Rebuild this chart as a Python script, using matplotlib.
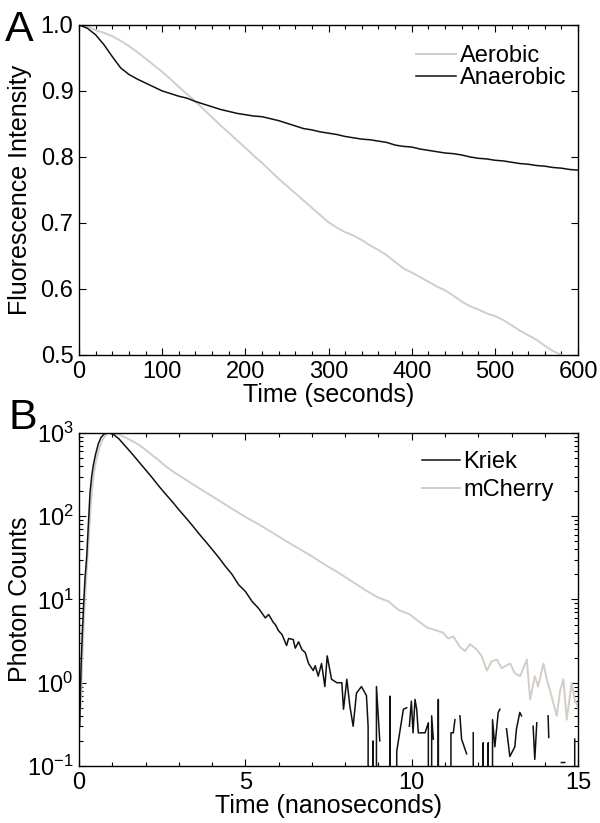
import numpy as np
import matplotlib
matplotlib.use("Agg")
import matplotlib.pyplot as plt
from matplotlib.ticker import MultipleLocator, LogLocator, NullFormatter

plt.rcParams['font.family'] = ['Liberation Sans', 'DejaVu Sans']

# panel A: fluorescence vs time (s)
time_a = list(range(0, 601, 10))
aerobic = [1.000, 0.998, 0.992, 0.988, 0.983, 0.976, 0.968, 0.959, 0.949, 0.939,
           0.929, 0.918, 0.906, 0.895, 0.884, 0.872, 0.860, 0.848, 0.837, 0.825,
           0.814, 0.802, 0.791, 0.779, 0.767, 0.756, 0.745, 0.734, 0.723, 0.712,
           0.701, 0.693, 0.686, 0.681, 0.674, 0.666, 0.659, 0.651, 0.641, 0.631,
           0.625, 0.618, 0.611, 0.604, 0.598, 0.590, 0.581, 0.574, 0.569, 0.563,
           0.559, 0.553, 0.545, 0.537, 0.530, 0.523, 0.514, 0.506, 0.500, 0.495,
           0.490]
anaerobic = [1.000, 0.995, 0.985, 0.970, 0.952, 0.935, 0.925, 0.918, 0.912, 0.906,
             0.900, 0.896, 0.892, 0.889, 0.884, 0.880, 0.876, 0.872, 0.869, 0.866,
             0.864, 0.862, 0.861, 0.858, 0.855, 0.851, 0.847, 0.843, 0.841, 0.838,
             0.836, 0.834, 0.831, 0.829, 0.827, 0.826, 0.824, 0.822, 0.818, 0.816,
             0.815, 0.812, 0.810, 0.808, 0.806, 0.805, 0.803, 0.800, 0.798, 0.797,
             0.795, 0.794, 0.792, 0.790, 0.789, 0.787, 0.786, 0.784, 0.783, 0.781,
             0.780]

# panel B: photon counts vs time (ns); nan = gap, 0 = empty bin
nan = float('nan')
kriek_t = [0.02, 0.06, 0.10, 0.14, 0.18, 0.23, 0.28, 0.33, 0.38, 0.43, 0.50, 0.58,
           0.66, 0.75, 0.85, 0.95, 1.05, 1.2, 1.4, 1.6, 1.8, 2.0, 2.2, 2.4, 2.6,
           2.8, 3.0, 3.2, 3.4, 3.6, 3.8, 4.0, 4.2, 4.4, 4.6, 4.8, 5.0, 5.2, 5.4,
           5.6, 5.7, 5.84, 5.9, 6.0, 6.1, 6.24, 6.3, 6.44, 6.5, 6.6, 6.7, 6.8, 6.9,
           7.04, 7.1, 7.19, 7.29, 7.39, 7.46, 7.59, 7.75, 7.9, 7.95, 8.05, 8.14,
           8.24, 8.34, 8.49, 8.64, 8.69, 8.79, 8.84, 8.89, 8.94, 9.04, 9.15,
           9.3, 9.35, 9.45, 9.55, 9.75, 9.85, 9.9, 9.93, 9.99, 10.04, 10.1, 10.15,
           10.2, 10.3, 10.4, 10.5, 10.55, 10.6, 10.65, 10.7, 10.78, 10.8, 10.85,
           10.9, 11.15, 11.18, 11.25, 11.3, 11.35, 11.45, 11.5, 11.6, 11.65, 11.7,
           11.85, 11.95, 12.15, 12.2, 12.3, 12.4, 12.43, 12.5, 12.6, 12.65, 12.7,
           12.85, 12.95, 13.1, 13.15, 13.25, 13.3, 13.35, 13.65, 13.7, 13.76, 13.8,
           14.1, 14.12, 14.2, 14.5, 14.6, 14.7, 14.9, 14.96, 15.0]
kriek = [0.3, 1.5, 4, 9, 18, 32, 80, 190, 300, 410, 560, 740,
         880, 970, 1000, 990, 950, 850, 690, 560, 450, 360, 290, 230, 185,
         150, 120, 97, 78, 62, 50, 40, 32, 25, 20, 15, 12.5, 9.5, 7.8,
         6.0, 6.6, 5.3, 5.0, 4.2, 3.8, 2.8, 3.4, 3.3, 2.6, 3.1, 2.5, 2.3, 1.7,
         1.4, 1.6, 1.2, 1.7, 0.9, 2.1, 1.1, 1.0, 1.0, 0.48, 1.1, 0.53,
         0.3, 0.75, 0.9, 0.7, 0.3, 0, 0.2, 0, 0.9, 0.2, nan,
         0, 0.69, 0, 0.15, 0.48, 0.5, nan, 0.3, 0.6, 0.25, 0.63, 0.48,
         0.25, 0.25, 0.25, 0.33, 0, 0.4, 0.21, nan, 0, 0.63, 0,
         nan, 0, 0.25, 0.25, 0.36, nan, 0.40, 0.21, 0.16, 0.14, nan,
         0.25, 0, 0.19, 0, 0.19, 0, 0.36, 0.17, 0.44, 0.48, nan,
         0.28, 0.13, 0.17, 0.28, 0.44, 0.40, nan, 0.30, 0.12, 0.33, nan,
         0.40, 0.22, nan, 0.11, 0.11, nan, 0.21, 0, 0]

mcherry_t = [0.05, 0.10, 0.15, 0.20, 0.25, 0.30, 0.35, 0.40, 0.45, 0.50, 0.60, 0.70,
             0.80, 0.90, 1.00, 1.10, 1.2, 1.4, 1.6, 1.8, 2.0, 2.2, 2.4, 2.6, 2.8,
             3.0, 3.4, 3.8, 4.2, 4.6, 5.0, 5.4, 5.8, 6.2, 6.6, 7.0, 7.4, 7.8, 8.2,
             8.6, 9.0, 9.3, 9.6, 9.95, 10.2, 10.46, 10.7, 10.94, 11.1, 11.25, 11.45,
             11.6, 11.75, 11.96, 12.1, 12.26, 12.4, 12.56, 12.7, 12.96, 13.1, 13.26,
             13.46, 13.56, 13.7, 13.8, 13.96, 14.06, 14.16, 14.36, 14.46, 14.56,
             14.66, 14.81, 14.9, 15.0]
mcherry = [0.5, 2, 6, 14, 30, 60, 130, 230, 330, 440, 640, 820,
           940, 1000, 1000, 980, 960, 880, 800, 720, 630, 540, 470, 400, 350,
           310, 245, 195, 155, 123, 98, 80, 64, 51, 41, 33, 26, 21, 16.5,
           13, 10.5, 9.5, 7.5, 6.6, 5.5, 4.6, 4.3, 4.0, 3.4, 3.6, 2.7,
           2.4, 2.9, 2.5, 2.1, 1.4, 1.8, 1.9, 1.5, 1.7, 1.3, 1.2,
           1.9, 0.63, 1.2, 0.9, 1.7, 1.1, 0.8, 0.4, 0.8, 1.1,
           0.36, 1.0, 0.63, 0.5]

light = '#d2cec6'
dark = '#111111'
fs_tick = 17
fs_label = 18


def style_axes(ax):
    ax.tick_params(which='both', direction='in', top=True, right=True,
                   labelsize=fs_tick, pad=4)
    ax.tick_params(which='major', length=5, width=0.8)
    ax.tick_params(which='minor', length=3, width=0.8)
    for sp in ax.spines.values():
        sp.set_linewidth(1.0)


def main():
    fig = plt.figure(figsize=(6, 8.23), dpi=100)

    # Panel A
    ax_a = fig.add_axes([0.1317, 0.5687, 0.8317, 0.4010])
    ax_a.plot(time_a, aerobic, color=light, lw=1.4, label="Aerobic")
    ax_a.plot(time_a, anaerobic, color=dark, lw=1.1, label="Anaerobic")
    ax_a.set_xlim(0, 600)
    ax_a.set_ylim(0.5, 1.0)
    ax_a.xaxis.set_major_locator(MultipleLocator(100))
    ax_a.xaxis.set_minor_locator(MultipleLocator(20))
    ax_a.yaxis.set_major_locator(MultipleLocator(0.1))
    style_axes(ax_a)
    ax_a.set_xlabel("Time (seconds)", fontsize=fs_label, labelpad=0)
    ax_a.set_ylabel("Fluorescence Intensity", fontsize=fs_label)
    ax_a.yaxis.set_label_coords(-0.094, 0.5)
    ax_a.legend(loc='upper right', frameon=False, fontsize=fs_tick,
                handlelength=1.7, handletextpad=0.15, labelspacing=0.0,
                borderaxespad=0.3, bbox_to_anchor=(1.01, 0.99))

    # Panel B
    ax_b = fig.add_axes([0.1317, 0.0693, 0.8317, 0.4046])
    ax_b.plot(mcherry_t, mcherry, color=light, lw=1.4, label="mCherry")
    ax_b.plot(kriek_t, kriek, color=dark, lw=1.1, label="Kriek")
    ax_b.set_yscale('log', nonpositive='clip')
    ax_b.set_xlim(0, 15)
    ax_b.set_ylim(0.1, 1000)
    ax_b.xaxis.set_major_locator(MultipleLocator(5))
    ax_b.xaxis.set_minor_locator(MultipleLocator(1))
    ax_b.yaxis.set_major_locator(LogLocator(base=10, numticks=10))
    ax_b.yaxis.set_minor_locator(LogLocator(base=10, subs=np.arange(2, 10), numticks=20))
    ax_b.yaxis.set_minor_formatter(NullFormatter())
    style_axes(ax_b)
    ax_b.set_xlabel("Time (nanoseconds)", fontsize=fs_label, labelpad=0)
    ax_b.set_ylabel("Photon Counts", fontsize=fs_label)
    ax_b.yaxis.set_label_coords(-0.094, 0.5)
    h, l = ax_b.get_legend_handles_labels()
    ax_b.legend(h[::-1], l[::-1], loc='upper right', frameon=False, fontsize=fs_tick,
                handlelength=1.6, handletextpad=0.15, labelspacing=0.25,
                borderaxespad=0.3, bbox_to_anchor=(0.985, 0.995))

    fig.text(0.008, 0.988, "A", fontsize=31, va='top', ha='left')
    fig.text(0.014, 0.517, "B", fontsize=31, va='top', ha='left')

    fig.savefig("out.png", dpi=100)


if __name__ == "__main__":
    main()
